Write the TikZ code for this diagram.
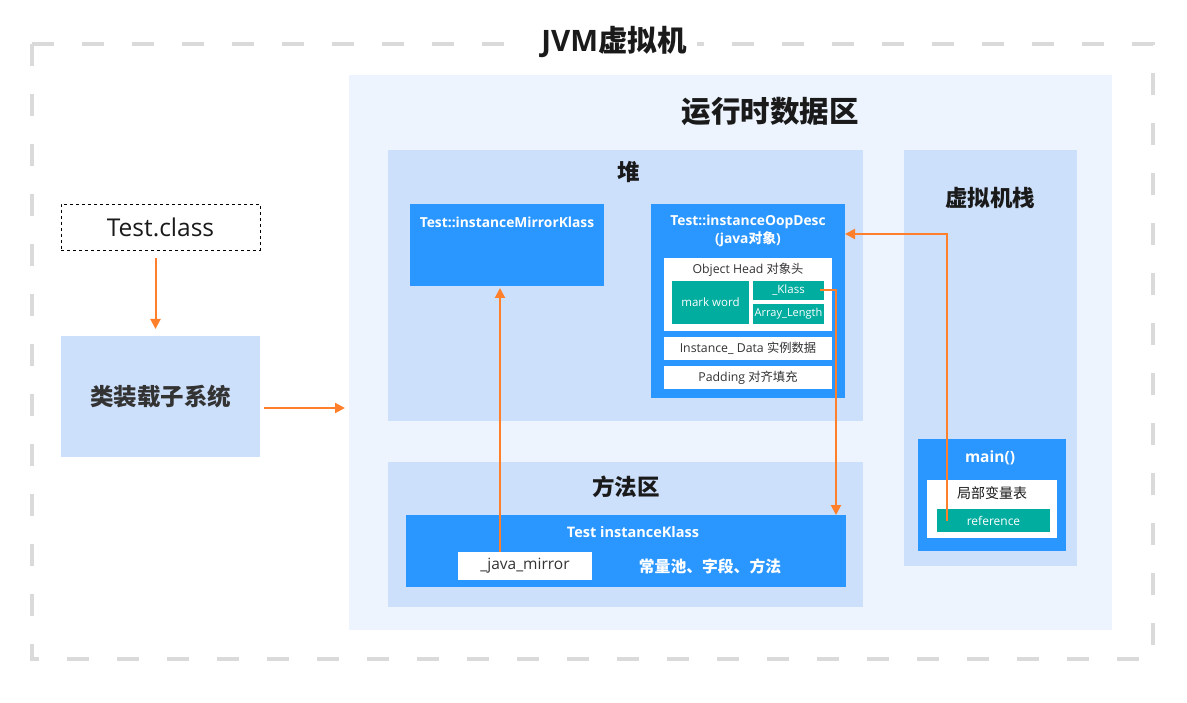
\documentclass[tikz,border=0pt]{standalone}
\usepackage{fontspec}
\setmainfont{Open Sans}
\newfontfamily\cjk{Noto Sans CJK SC}
\usetikzlibrary{arrows.meta,calc}
\definecolor{blueb}{HTML}{2A96FF}
\definecolor{tealb}{HTML}{00AD9F}
\definecolor{regionc}{HTML}{CDE0FB}
\definecolor{rtbg}{HTML}{EDF4FE}
\definecolor{arrc}{HTML}{FF7F2A}
\definecolor{dashc}{HTML}{DADADA}
\definecolor{txt}{HTML}{333333}
\definecolor{dark}{HTML}{1A1A1A}
\begin{document}
\begin{tikzpicture}[x=1pt,y=-1pt,
  box/.style={rectangle, inner sep=0pt, outer sep=0pt, draw=none},
  region/.style={box, fill=regionc},
  bluebox/.style={box, fill=blueb},
  whitebox/.style={box, fill=white},
  tealbox/.style={box, fill=tealb, text=white, font=\fontsize{11.5}{13}\selectfont},
  bigtitle/.style={font=\fontsize{29.5}{32}\selectfont\bfseries, text=dark, inner sep=0pt},
  sectitle/.style={font=\fontsize{22.5}{26}\selectfont\bfseries, text=dark, inner sep=0pt},
  boxtitle/.style={font=\fontsize{13.8}{18}\selectfont\bfseries, text=white, inner sep=0pt, align=center},
  smalltext/.style={font=\fontsize{12.3}{14}\selectfont, text=txt, inner sep=0pt},
  arr/.style={draw=arrc, line width=2pt, -{Triangle[width=10pt,length=10pt]}}
]
\useasboundingbox (0,0) rectangle (1187,703);
\fill[white] (0,0) rectangle (1187,703);

% outer dashed frame
\draw[dashc, line width=4pt, dash pattern=on 22pt off 28pt] (32,44) rectangle (1153,659);
\node[bigtitle, fill=white, inner xsep=10pt, inner ysep=4pt] (jvmtitle) at (614,42) {JVM\cjk 虚拟机};

% runtime data area
\node[box, fill=rtbg, minimum width=763pt, minimum height=555pt] (runtime) at (730.5,352.5) {};
\node[bigtitle] (rttitle) at (770,111) {\cjk 运行时数据区};

% heap
\node[region, minimum width=475pt, minimum height=271pt] (heap) at (625.5,285.5) {};
\node[sectitle] (heaptitle) at (629,172) {\cjk 堆};

\node[bluebox, minimum width=194pt, minimum height=82pt] (mirror) at (507,245) {};
\node[boxtitle] (mirrortitle) at ([yshift=-18pt]mirror.north) {Test::instanceMirrorKlass};

\node[bluebox, minimum width=194pt, minimum height=194pt] (oop) at (748,301) {};
\node[boxtitle] (ooptitle) at (748,231) {Test::instanceOopDesc\\(java{\cjk 对象})};

\node[whitebox, minimum width=168pt, minimum height=73pt] (head) at (748,294.5) {};
\node[smalltext] (headtitle) at (748,270) {Object Head {\cjk 对象头}};
\node[tealbox, minimum width=77pt, minimum height=43pt] (mark) at (710.5,302.5) {mark word};
\node[tealbox, minimum width=71pt, minimum height=19pt] (klass) at (788.5,290.5) {\_Klass};
\node[tealbox, minimum width=71pt, minimum height=20pt, font=\fontsize{11}{13}\selectfont] (alen) at (788.5,314) {Array\_Length};
\node[whitebox, smalltext, minimum width=168pt, minimum height=23pt] (idata) at (748,348.5) {Instance\_ Data {\cjk 实例数据}};
\node[whitebox, smalltext, minimum width=168pt, minimum height=23pt] (pad) at (748,377.5) {Padding {\cjk 对齐填充}};

% method area
\node[region, minimum width=475pt, minimum height=145pt] (method) at (625.5,534.5) {};
\node[sectitle] (methodtitle) at (626,487) {\cjk 方法区};
\node[bluebox, minimum width=440pt, minimum height=72pt] (ik) at (626,551) {};
\node[boxtitle, font=\fontsize{14.5}{18}\selectfont\bfseries] (iktitle) at (633,532) {Test instanceKlass};
\node[whitebox, minimum width=134pt, minimum height=28pt, font=\fontsize{15.5}{18}\selectfont, text=txt] (jm) at (525,566) {\_java\_mirror};
\node[font=\fontsize{15.8}{18}\selectfont\bfseries\cjk, text=white, inner sep=0pt] (pool) at (710,566) {常量池、字段、方法};

% VM stack
\node[region, minimum width=173pt, minimum height=416pt] (stack) at (990.5,358) {};
\node[sectitle] (stacktitle) at (990,198) {\cjk 虚拟机栈};
\node[bluebox, minimum width=148pt, minimum height=112pt] (main) at (992,495) {};
\node[boxtitle, font=\fontsize{15.5}{18}\selectfont\bfseries] (maintitle) at (990,458) {main()};
\node[whitebox, minimum width=130pt, minimum height=58pt] (lvt) at (992,509) {};
\node[font=\fontsize{14}{16}\selectfont\cjk, text=dark, inner sep=0pt] (lvttitle) at (992,493) {局部变量表};
\node[tealbox, minimum width=113pt, minimum height=23pt, font=\fontsize{12}{14}\selectfont] (ref) at (993.5,520.5) {reference};

% class loading
\node[box, draw=black, dashed, line width=0.9pt, minimum width=199pt, minimum height=46pt, font=\fontsize{24.5}{26}\selectfont, text=dark] (tclass) at (160.5,227) {Test.class};
\node[region, minimum width=199pt, minimum height=121pt, font=\fontsize{23.5}{26}\selectfont\bfseries\cjk, text=txt] (loader) at (160.5,396.5) {类装载子系统};

% connectors
\draw[arr] ([xshift=-5pt,yshift=-8pt]tclass.south) -- ([xshift=-5pt,yshift=7pt]loader.north);
\draw[arr] ([xshift=4pt,yshift=-11.5pt]loader.east) -- ([xshift=-4pt,yshift=-55.5pt]runtime.west);
\draw[arr] ([xshift=-25pt]jm.north) -- ([xshift=-7pt,yshift=-2pt]mirror.south);
\coordinate (kc) at ([xshift=12pt]klass.east);
\draw[arr] ([xshift=-4pt]klass.east) -- (kc) -- (kc |- ik.north);
\coordinate (rc) at (947,234);
\draw[arr] ([xshift=10pt]ref.west) -- (rc) -- (rc -| oop.east);
\end{tikzpicture}
\end{document}
